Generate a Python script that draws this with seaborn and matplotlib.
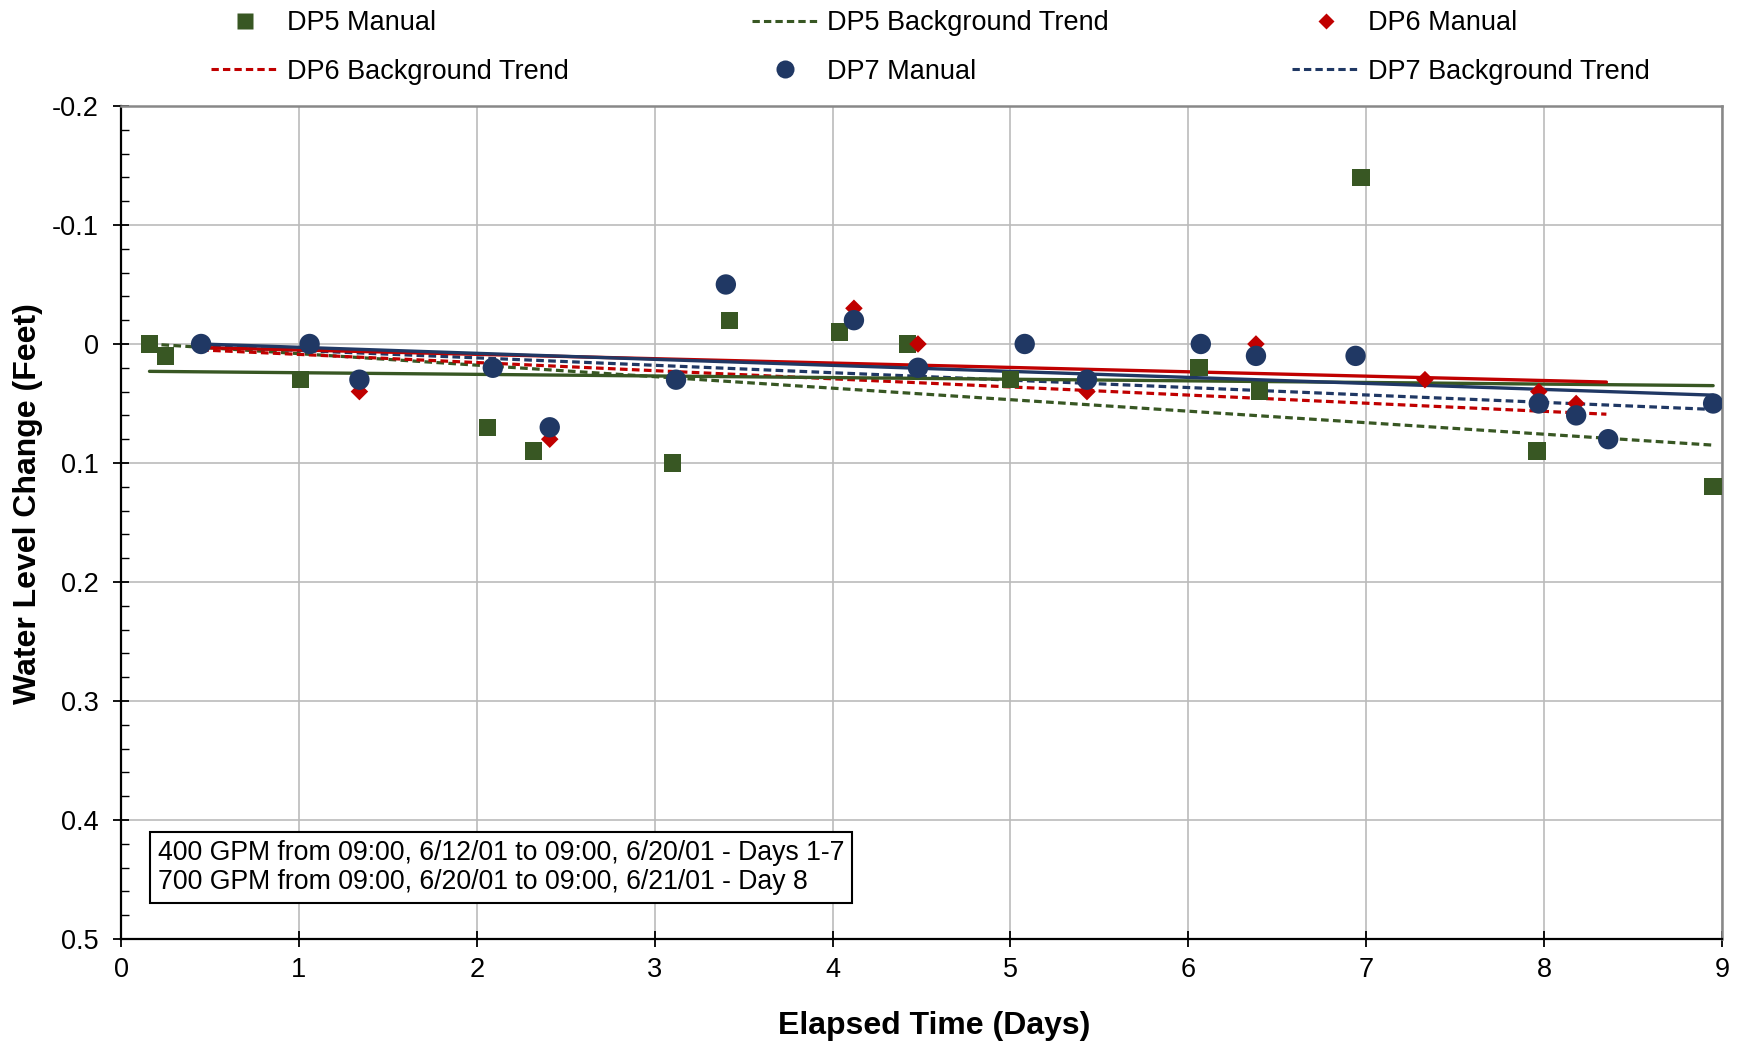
import numpy as np
import pandas as pd
import matplotlib
matplotlib.use("Agg")
import matplotlib.pyplot as plt
import seaborn as sns
from matplotlib.lines import Line2D

# ---- data ----
dp5_x = [0.16, 0.25, 1.01, 2.06, 2.32, 3.10, 3.42, 4.04, 4.42, 5.00, 6.06, 6.40, 6.97, 7.96, 8.95]
dp5_y = [0.00, 0.01, 0.03, 0.07, 0.09, 0.10, -0.02, -0.01, 0.00, 0.03, 0.02, 0.04, -0.14, 0.09, 0.12]

dp6_x = [0.45, 1.34, 2.09, 2.41, 3.12, 4.12, 4.48, 5.43, 6.38, 7.33, 7.97, 8.18]
dp6_y = [0.00, 0.04, 0.02, 0.08, 0.03, -0.03, 0.00, 0.04, 0.00, 0.03, 0.04, 0.05]

dp7_x = [0.45, 1.06, 1.34, 2.09, 2.41, 3.12, 3.40, 4.12, 4.48, 5.08, 5.43, 6.07, 6.38, 6.94, 7.97, 8.18, 8.36, 8.95]
dp7_y = [0.00, 0.00, 0.03, 0.02, 0.07, 0.03, -0.05, -0.02, 0.02, 0.00, 0.03, 0.00, 0.01, 0.01, 0.05, 0.06, 0.08, 0.05]

# background trends (dashed) and fitted trends (solid): endpoints
dp5_bg_x = [0.16, 8.95]; dp5_bg_y = [0.000, 0.085]
dp6_bg_x = [0.45, 8.35]; dp6_bg_y = [0.005, 0.059]
dp7_bg_x = [0.45, 8.95]; dp7_bg_y = [0.002, 0.055]
dp5_fit_x = [0.16, 8.95]; dp5_fit_y = [0.023, 0.035]
dp6_fit_x = [0.45, 8.35]; dp6_fit_y = [0.003, 0.032]
dp7_fit_x = [0.45, 8.95]; dp7_fit_y = [0.000, 0.043]

x_ticks = list(range(0, 10))
y_ticks = [-0.2, -0.1, 0.0, 0.1, 0.2, 0.3, 0.4, 0.5]
y_tick_labels = ["-0.2", "-0.1", "0", "0.1", "0.2", "0.3", "0.4", "0.5"]

note_lines = ["400 GPM from 09:00, 6/12/01 to 09:00, 6/20/01 - Days 1-7",
              "700 GPM from 09:00, 6/20/01 to 09:00, 6/21/01 - Day 8"]

GREEN = "#385723"
RED = "#C00000"
BLUE = "#203864"

sns.set_theme(style="white")
plt.rcParams['font.family'] = ['Liberation Sans', 'DejaVu Sans']
plt.rcParams['text.color'] = 'black'
plt.rcParams['axes.labelcolor'] = 'black'
plt.rcParams['xtick.color'] = 'black'
plt.rcParams['ytick.color'] = 'black'

fig = plt.figure(figsize=(17.44, 10.43), dpi=100)
ax = fig.add_axes([0.0694, 0.0997, 0.918, 0.7987])

dash = (0, (2.4, 1.35))
for xs, ys, c in [(dp5_bg_x, dp5_bg_y, GREEN), (dp6_bg_x, dp6_bg_y, RED), (dp7_bg_x, dp7_bg_y, BLUE)]:
    sns.lineplot(x=xs, y=ys, ax=ax, color=c, lw=2.3, ls=dash, sort=False, estimator=None, zorder=2)
for xs, ys, c in [(dp5_fit_x, dp5_fit_y, GREEN), (dp6_fit_x, dp6_fit_y, RED), (dp7_fit_x, dp7_fit_y, BLUE)]:
    sns.lineplot(x=xs, y=ys, ax=ax, color=c, lw=2.4, sort=False, estimator=None, zorder=2)

sns.scatterplot(x=dp5_x, y=dp5_y, ax=ax, marker="s", s=155, color=GREEN, edgecolor="none", zorder=3)
sns.scatterplot(x=dp6_x, y=dp6_y, ax=ax, marker="D", s=80, color=RED, edgecolor="none", zorder=4)
sns.scatterplot(x=dp7_x, y=dp7_y, ax=ax, marker="o", s=215, color=BLUE, edgecolor="none", zorder=5)

ax.set_xlim(0, 9)
ax.set_ylim(0.5, -0.2)
ax.set_xticks(x_ticks)
ax.set_xticklabels([str(v) for v in x_ticks])
ax.set_yticks(y_ticks)
ax.set_yticklabels(y_tick_labels)
ax.set_yticks(np.arange(-0.2, 0.5001, 0.02), minor=True)
ax.grid(True, which="major", color="#BBBBBB", lw=1.2)
ax.set_axisbelow(True)
ax.tick_params(axis="both", which="major", direction="inout", length=12, width=1.3,
               labelsize=19.5, color="black", pad=7, left=True, bottom=True)
ax.tick_params(axis="y", which="major", pad=10)
ax.tick_params(axis="y", which="minor", direction="in", length=6, width=1.0, left=True, color="black")
for side in ["left", "bottom"]:
    ax.spines[side].set_color("black")
    ax.spines[side].set_linewidth(1.6)
for side in ["top", "right"]:
    ax.spines[side].set_color("#888888")
    ax.spines[side].set_linewidth(1.8)

ax.set_xlabel("Elapsed Time (Days)", fontsize=23, fontweight="bold", labelpad=20)
ax.set_ylabel("Water Level Change (Feet)", fontsize=23, fontweight="bold", labelpad=6)
ax.xaxis.label.set_x(0.5076)
ax.yaxis.label.set_y(0.5227)

ax.text(0.0229, 0.0854, "\n".join(note_lines), transform=ax.transAxes,
        fontsize=19.2, ha="left", va="center", linespacing=1.15,
        bbox=dict(boxstyle="square,pad=0.3", fc="white", ec="black", lw=1.5), zorder=6)

h5m = Line2D([], [], ls="none", marker="s", ms=11, color=GREEN, mec="none")
h5b = Line2D([], [], ls=dash, lw=2.2, color=GREEN)
h6m = Line2D([], [], ls="none", marker="D", ms=8, color=RED, mec="none")
h6b = Line2D([], [], ls=dash, lw=2.2, color=RED)
h7m = Line2D([], [], ls="none", marker="o", ms=13, color=BLUE, mec="none")
h7b = Line2D([], [], ls=dash, lw=2.2, color=BLUE)
handles = [h5m, h6b, h5b, h7m, h6m, h7b]
labels = ["DP5 Manual", "DP6 Background Trend", "DP5 Background Trend",
          "DP7 Manual", "DP6 Manual", "DP7 Background Trend"]
fig.legend(handles, labels, ncol=3, loc="upper left", bbox_to_anchor=(0.121, 0.990),
           frameon=False, fontsize=19.5, handlelength=2.5, handletextpad=0.3,
           columnspacing=6.75, labelspacing=0.82, borderpad=0, borderaxespad=0)

fig.savefig("out.png", dpi=100)
